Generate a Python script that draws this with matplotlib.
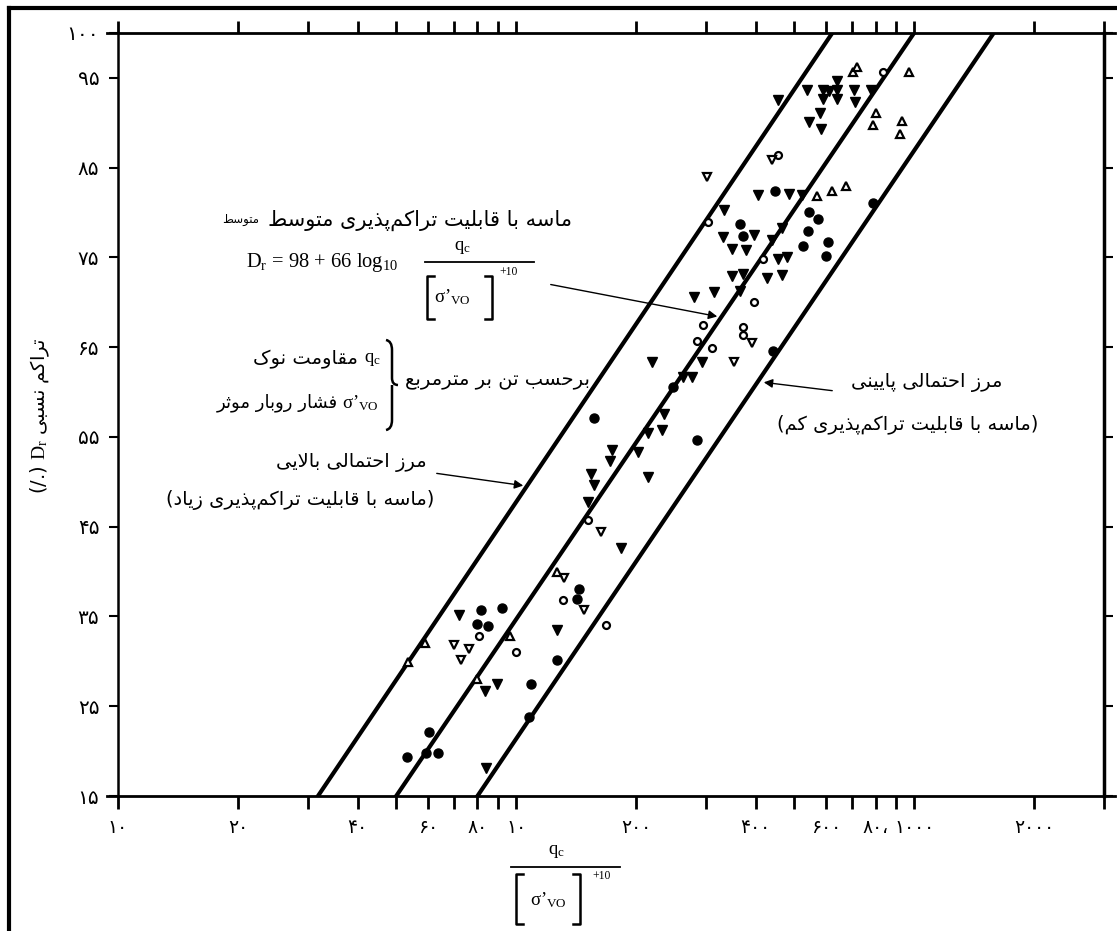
import matplotlib
matplotlib.use('Agg')
import matplotlib.pyplot as plt
from matplotlib.lines import Line2D
from matplotlib.path import Path
from matplotlib.patches import PathPatch
from matplotlib.ticker import FixedLocator, FixedFormatter, NullLocator

plt.rcParams['font.family'] = ['DejaVu Sans']
plt.rcParams['mathtext.fontset'] = 'custom'
plt.rcParams['mathtext.rm'] = 'Liberation Serif'
plt.rcParams['mathtext.it'] = 'Liberation Serif:italic'

# ---- data: x = qc / sigma'vo^0.5 , y = Dr (%) ----
fc_q = [448, 790, 366, 545, 575, 542, 372, 527, 609, 602, 443, 248, 157, 285,
        144, 142, 81.7, 92.3, 79.9, 85.1, 127, 109, 108, 60.5, 53.2, 59.4, 63.7]
fc_dr = [82.4, 81.1, 78.7, 80.1, 79.3, 77.9, 77.4, 76.3, 76.7, 75.2, 64.6, 60.6, 57.1, 54.7,
         38.1, 36.9, 35.7, 35.9, 34.2, 33.9, 30.2, 27.5, 23.8, 22.1, 19.4, 19.8, 19.8]

oc_q = [837, 456, 304, 418, 397, 295, 285, 311, 372, 372, 152, 131, 168, 80.8, 100]
oc_dr = [95.6, 86.4, 79.0, 74.8, 70.0, 67.5, 65.7, 64.9, 67.3, 66.4, 45.8, 36.8, 34.1, 32.8, 31.0]

fdt_q = [539, 591, 612, 591, 641, 641, 641, 707, 712, 780, 456, 581, 545, 585,
         406, 486, 524, 333, 467, 331, 397, 440, 349, 379, 456, 480, 349, 372, 366,
         428, 467, 280, 315, 220, 294, 263, 277, 236, 214, 233, 174, 172, 202, 215,
         154, 157, 152, 184, 127, 71.9, 83.6, 89.6, 84.1]
fdt_dr = [93.6, 93.7, 93.5, 92.7, 94.6, 93.7, 92.7, 93.6, 92.3, 93.6, 92.5, 91.1, 90.1, 89.3,
          82.0, 82.1, 82.0, 80.3, 78.3, 77.3, 77.5, 76.9, 75.9, 75.8, 74.8, 75.1, 72.9, 73.1, 71.3,
          72.7, 73.0, 70.6, 71.2, 63.3, 63.4, 61.7, 61.7, 57.6, 55.4, 55.8, 53.6, 52.3, 53.3, 50.5,
          50.9, 49.6, 47.7, 42.6, 33.5, 35.2, 26.7, 27.5, 18.1]

odt_q = [440, 302, 392, 353, 163, 132, 148, 69.9, 76.2, 72.8]
odt_dr = [85.9, 84.0, 65.5, 63.4, 44.4, 39.3, 35.7, 31.8, 31.4, 30.1]

out_q = [703, 720, 973, 804, 790, 934, 923, 571, 623, 676, 127, 59.1, 53.6, 96.6, 79.9]
out_dr = [95.6, 96.2, 95.6, 91.1, 89.7, 90.2, 88.7, 81.8, 82.4, 83.0, 39.9, 32.1, 29.9, 32.8, 28.0]

# boundary lines (end points at Dr = 15 and Dr = 100)
bound_dr = [15, 100]
upper_q = [31.8, 623]
middle_q = [50, 1000]
lower_q = [80, 1585]

x_ticks = [10, 20, 30, 40, 50, 60, 70, 80, 90, 100, 200, 300, 400, 500, 600, 700,
           800, 900, 1000, 2000, 3000]
x_labels = ['۱۰', '۲۰', '', '۴۰', '', '۶۰', '', '۸۰', '', '۱۰', '۲۰۰', '', '۴۰۰', '',
            '۶۰۰', '', '۸۰،', '', '۱۰۰۰', '۲۰۰۰', '']
y_ticks = [15, 25, 35, 45, 55, 65, 75, 85, 95, 100]
y_labels = ['۱۵', '۲۵', '۳۵', '۴۵', '۵۵', '۶۵', '۷۵', '۸۵', '۹۵', '۱۰۰']

# ---- minimal persian shaping (matplotlib has no complex text layout) ----
FORMS = {
    'ا': ('\uFE8D', '\uFE8E', None, None),
    'ب': ('\uFE8F', '\uFE90', '\uFE91', '\uFE92'),
    'پ': ('\uFB56', '\uFB57', '\uFB58', '\uFB59'),
    'ت': ('\uFE95', '\uFE96', '\uFE97', '\uFE98'),
    'ث': ('\uFE99', '\uFE9A', '\uFE9B', '\uFE9C'),
    'ح': ('\uFEA1', '\uFEA2', '\uFEA3', '\uFEA4'),
    'د': ('\uFEA9', '\uFEAA', None, None),
    'ذ': ('\uFEAB', '\uFEAC', None, None),
    'ر': ('\uFEAD', '\uFEAE', None, None),
    'ز': ('\uFEAF', '\uFEB0', None, None),
    'س': ('\uFEB1', '\uFEB2', '\uFEB3', '\uFEB4'),
    'ش': ('\uFEB5', '\uFEB6', '\uFEB7', '\uFEB8'),
    'ط': ('\uFEC1', '\uFEC2', '\uFEC3', '\uFEC4'),
    'ع': ('\uFEC9', '\uFECA', '\uFECB', '\uFECC'),
    'ف': ('\uFED1', '\uFED2', '\uFED3', '\uFED4'),
    'ق': ('\uFED5', '\uFED6', '\uFED7', '\uFED8'),
    'ک': ('\uFB8E', '\uFB8F', '\uFB90', '\uFB91'),
    'ل': ('\uFEDD', '\uFEDE', '\uFEDF', '\uFEE0'),
    'م': ('\uFEE1', '\uFEE2', '\uFEE3', '\uFEE4'),
    'ن': ('\uFEE5', '\uFEE6', '\uFEE7', '\uFEE8'),
    'ه': ('\uFEE9', '\uFEEA', '\uFEEB', '\uFEEC'),
    'و': ('\uFEED', '\uFEEE', None, None),
    'ی': ('\uFBFC', '\uFBFD', '\uFBFE', '\uFBFF'),
}
MIRROR = {'(': ')', ')': '('}


def fa(text):
    out = []
    i = 0
    n = len(text)
    while i < n:
        ch = text[i]
        if ch == '\u200c':
            i += 1
            continue
        if ch not in FORMS:
            out.append(MIRROR.get(ch, ch))
            i += 1
            continue
        prev = text[i - 1] if i > 0 else ''
        jp = prev in FORMS and FORMS[prev][2] is not None
        if ch == 'ل' and i + 1 < n and text[i + 1] == 'ا':
            out.append('\uFEFC' if jp else '\uFEFB')
            i += 2
            continue
        nxt = text[i + 1] if i + 1 < n else ''
        iso, fin, ini, med = FORMS[ch]
        jn = ini is not None and nxt in FORMS
        if jp and jn:
            out.append(med)
        elif jp:
            out.append(fin)
        elif jn:
            out.append(ini)
        else:
            out.append(iso)
        i += 1
    return ''.join(out[::-1])


W, H = 1117, 931


def fx(x):
    return x / W


def fy(y):
    return 1 - y / H


fig = plt.figure(figsize=(W / 100, H / 100), dpi=100)
ax = fig.add_axes([fx(118), fy(796), (1104 - 118) / W, (796 - 33) / H])

ax.set_xscale('log')
ax.set_xlim(10, 3000)
ax.set_ylim(15, 100)

ax.plot(upper_q, bound_dr, color='k', lw=3)
ax.plot(middle_q, bound_dr, color='k', lw=3)
ax.plot(lower_q, bound_dr, color='k', lw=3)

ax.plot(fc_q, fc_dr, ls='none', marker='o', ms=6.5, color='k')
ax.plot(oc_q, oc_dr, ls='none', marker='o', ms=5, mfc='white', mec='k', mew=1.6)
ax.plot(fdt_q, fdt_dr, ls='none', marker='v', ms=7.5, color='k')
ax.plot(odt_q, odt_dr, ls='none', marker='v', ms=5.5, mfc='white', mec='k', mew=1.6)
ax.plot(out_q, out_dr, ls='none', marker='^', ms=5.5, mfc='white', mec='k', mew=1.6)

ax.xaxis.set_major_locator(FixedLocator(x_ticks))
ax.xaxis.set_major_formatter(FixedFormatter(x_labels))
ax.xaxis.set_minor_locator(NullLocator())
ax.yaxis.set_major_locator(FixedLocator(y_ticks))
ax.yaxis.set_major_formatter(FixedFormatter(y_labels))
ax.tick_params(axis='x', direction='out', length=9, width=2, top=True,
               labeltop=False, labelsize=13.5, pad=7)
ax.tick_params(axis='y', direction='out', length=6.5, width=1.5, right=True,
               labelsize=14.5, pad=7)

ax.spines['top'].set_visible(False)
ax.spines['bottom'].set_visible(False)
ax.spines['left'].set_linewidth(1.8)
ax.spines['right'].set_linewidth(2.5)

# extended top / bottom axis lines and the outer frame
for yy in (33, 796):
    fig.add_artist(Line2D([fx(107), fx(1115)], [fy(yy), fy(yy)], lw=2, color='k'))
fig.add_artist(Line2D([fx(9), fx(1117)], [fy(8), fy(8)], lw=3, color='k'))
fig.add_artist(Line2D([fx(9), fx(9)], [fy(8), fy(931)], lw=3, color='k'))

serif = 'Liberation Serif'


def bracket(x, y0, y1, side):
    arm = 7 if side == 'left' else -7
    fig.add_artist(Line2D([fx(x + arm), fx(x), fx(x), fx(x + arm)],
                          [fy(y0), fy(y0), fy(y1), fy(y1)], lw=1.8, color='k'))


def fraction(qx, qy, lx0, lx1, ly, bx0, bx1, by0, by1, sx, sy, px, py, size):
    fig.text(fx(qx), fy(qy), r'q$_\mathrm{c}$', ha='center', va='center',
             family=serif, fontsize=size)
    fig.add_artist(Line2D([fx(lx0), fx(lx1)], [fy(ly), fy(ly)], lw=1.3, color='k'))
    bracket(bx0, by0, by1, 'left')
    bracket(bx1, by0, by1, 'right')
    fig.text(fx(sx), fy(sy), r'σ’$_\mathrm{VO}$', ha='left', va='center',
             family=serif, fontsize=size)
    fig.text(fx(px), fy(py), '+10', ha='left', va='center', family=serif,
             fontsize=size * 0.62)


FS = 14

# formula block
fig.text(fx(572), fy(220), fa('ماسه با قابلیت تراکم\u200cپذیری متوسط'),
         ha='right', va='center', fontsize=15)
fig.text(fx(259), fy(220), fa('متوسط'), ha='right', va='center', fontsize=8.5)
fig.text(fx(246), fy(262), r'D$_\mathrm{r}$ = 98 + 66 log$_\mathrm{10}$',
         ha='left', va='center', family=serif, fontsize=14.8)
fraction(462, 248, 425, 534, 262, 427, 492, 276, 319, 434, 297, 499, 272, 13.5)
ax.annotate('', xy=(fx(720), fy(317)), xycoords='figure fraction',
            xytext=(fx(548), fy(284)), textcoords='figure fraction',
            arrowprops=dict(arrowstyle='-|>', lw=1, color='k', mutation_scale=13))

# brace block
fig.text(fx(381), fy(359), r'q$_\mathrm{c}$', ha='right', va='center',
         family=serif, fontsize=13.5)
fig.text(fx(358), fy(359), fa('مقاومت نوک'), ha='right', va='center', fontsize=FS)
fig.text(fx(342), fy(403), r'σ’$_\mathrm{VO}$', ha='left', va='center',
         family=serif, fontsize=13.5)
fig.text(fx(338), fy(403), fa('فشار روبار موثر'), ha='right', va='center', fontsize=13)
brace = Path([(fx(386), fy(340)), (fx(392), fy(341)), (fx(392), fy(350)),
              (fx(392), fy(378)), (fx(392), fy(385)), (fx(398), fy(385)),
              (fx(392), fy(385)), (fx(392), fy(392)), (fx(392), fy(420)),
              (fx(392), fy(429)), (fx(386), fy(430))],
             [Path.MOVETO, Path.CURVE3, Path.CURVE3, Path.LINETO, Path.CURVE3,
              Path.CURVE3, Path.MOVETO, Path.CURVE3, Path.LINETO, Path.CURVE3,
              Path.CURVE3])
fig.add_artist(PathPatch(brace, transform=fig.transFigure, fill=False, lw=1.8,
                         color='k'))
fig.text(fx(405), fy(380), fa('برحسب تن بر مترمربع'), ha='left', va='center',
         fontsize=FS)

# upper bound
fig.text(fx(427), fy(462), fa('مرز احتمالی بالایی'), ha='right', va='center',
         fontsize=FS)
fig.text(fx(434), fy(500), fa('(ماسه با قابلیت تراکم\u200cپذیری زیاد)'), ha='right',
         va='center', fontsize=FS)
ax.annotate('', xy=(fx(526), fy(486)), xycoords='figure fraction',
            xytext=(fx(434), fy(473)), textcoords='figure fraction',
            arrowprops=dict(arrowstyle='-|>', lw=1, color='k', mutation_scale=13))

# lower bound
fig.text(fx(1002), fy(383), fa('مرز احتمالی پایینی'), ha='right', va='center',
         fontsize=FS)
fig.text(fx(1038), fy(424), fa('(ماسه با قابلیت تراکم\u200cپذیری کم)'), ha='right',
         va='center', fontsize=FS)
ax.annotate('', xy=(fx(761), fy(382)), xycoords='figure fraction',
            xytext=(fx(835), fy(391)), textcoords='figure fraction',
            arrowprops=dict(arrowstyle='-|>', lw=1, color='k', mutation_scale=13))

# axis titles
fig.text(fx(40), fy(416), '(/.) $\\mathrm{D_r}$ ' + fa('تراکم نسبی'), rotation=90,
         ha='center', va='center', fontsize=FS)
fraction(556, 852, 511, 620, 867, 516, 580, 874, 924, 530, 900, 592, 876, 13.5)

fig.savefig('out.png', dpi=100)
